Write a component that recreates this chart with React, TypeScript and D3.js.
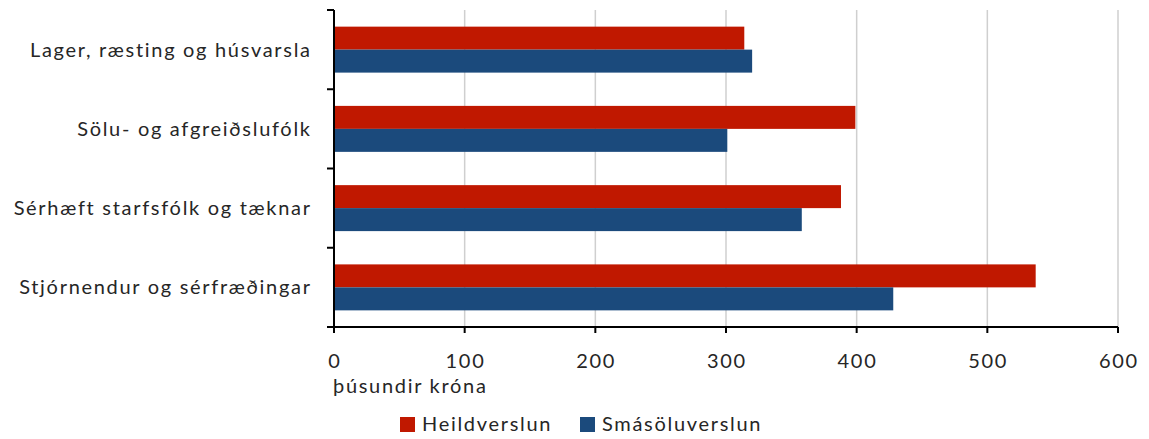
import React from "react";
import * as d3 from "d3";

const categories = [
  "Lager, ræsting og húsvarsla",
  "Sölu- og afgreiðslufólk",
  "Sérhæft starfsfólk og tæknar",
  "Stjórnendur og sérfræðingar",
];
const seriesNames = ["Heildverslun", "Smásöluverslun"];
const heildverslun = [314, 399, 388, 537];
const smasoluverslun = [320, 301, 358, 428];
const xTicks = [0, 100, 200, 300, 400, 500, 600];
const axisTitle = "þúsundir króna";

const colors = ["#C01800", "#1B4A7C"];
const W = 1149;
const H = 439;
const FONT = "Lato, 'Open Sans', sans-serif";
const FS = 20;
const LS = 1.7;

export default function App() {
  const left = 334;
  const right = 1118;
  const top = 10;
  const bottom = 327;
  const x = d3.scaleLinear().domain([0, 600]).range([left, right]);
  const y = d3.scaleBand<string>().domain(categories).range([top, bottom]).paddingInner(0.42).paddingOuter(0.21);
  const ySub = d3.scaleBand<string>().domain(seriesNames).range([0, y.bandwidth()]);
  const data = [heildverslun, smasoluverslun];
  const step = y.step();
  const boundaries = d3.range(categories.length + 1).map((i) => top + i * step);
  const textStyle = { letterSpacing: LS + "px" };

  return (
    <svg width={W} height={H} style={{ position: "absolute", left: 0, top: 0, background: "#fff" }}>
      {xTicks.filter((t) => t > 0).map((t) => (
        <line key={"g" + t} x1={x(t)} x2={x(t)} y1={top} y2={bottom} stroke="#cfcfcf" strokeWidth={1.5} />
      ))}
      {categories.map((c, i) =>
        seriesNames.map((s, j) => (
          <rect
            key={c + s}
            x={x(0)}
            y={(y(c) as number) + (ySub(s) as number)}
            width={x(data[j][i]) - x(0)}
            height={ySub.bandwidth()}
            fill={colors[j]}
          />
        ))
      )}
      {/* y axis */}
      <line x1={left} x2={left} y1={top} y2={bottom} stroke="#000" strokeWidth={2} />
      {boundaries.map((b, i) => (
        <line key={"yt" + i} x1={left - 7} x2={left} y1={b} y2={b} stroke="#000" strokeWidth={2} />
      ))}
      {/* x axis */}
      <line x1={left - 7} x2={right} y1={bottom} y2={bottom} stroke="#000" strokeWidth={2} />
      {xTicks.map((t) => (
        <g key={"xt" + t}>
          <line x1={x(t)} x2={x(t)} y1={bottom} y2={bottom + 6} stroke="#000" strokeWidth={2} />
          <text x={x(t) + LS / 2} y={368} textAnchor="middle" fontFamily={FONT} fontSize={FS} fill="#262626" style={textStyle}>
            {t}
          </text>
        </g>
      ))}
      {categories.map((c) => (
        <text
          key={"l" + c}
          x={310 + LS}
          y={(y(c) as number) + y.bandwidth() / 2}
          dy="0.35em"
          textAnchor="end"
          fontFamily={FONT}
          fontSize={FS}
          fill="#262626"
          style={textStyle}
        >
          {c}
        </text>
      ))}
      <text x={333} y={393} fontFamily={FONT} fontSize={FS} fill="#262626" style={textStyle}>
        {axisTitle}
      </text>
      {seriesNames.map((s, j) => {
        const lx = [400, 580][j];
        return (
          <g key={"lg" + s}>
            <rect x={lx} y={417} width={15} height={15} fill={colors[j]} />
            <text x={lx + 22} y={431} fontFamily={FONT} fontSize={FS} fill="#262626" style={textStyle}>
              {s}
            </text>
          </g>
        );
      })}
    </svg>
  );
}
